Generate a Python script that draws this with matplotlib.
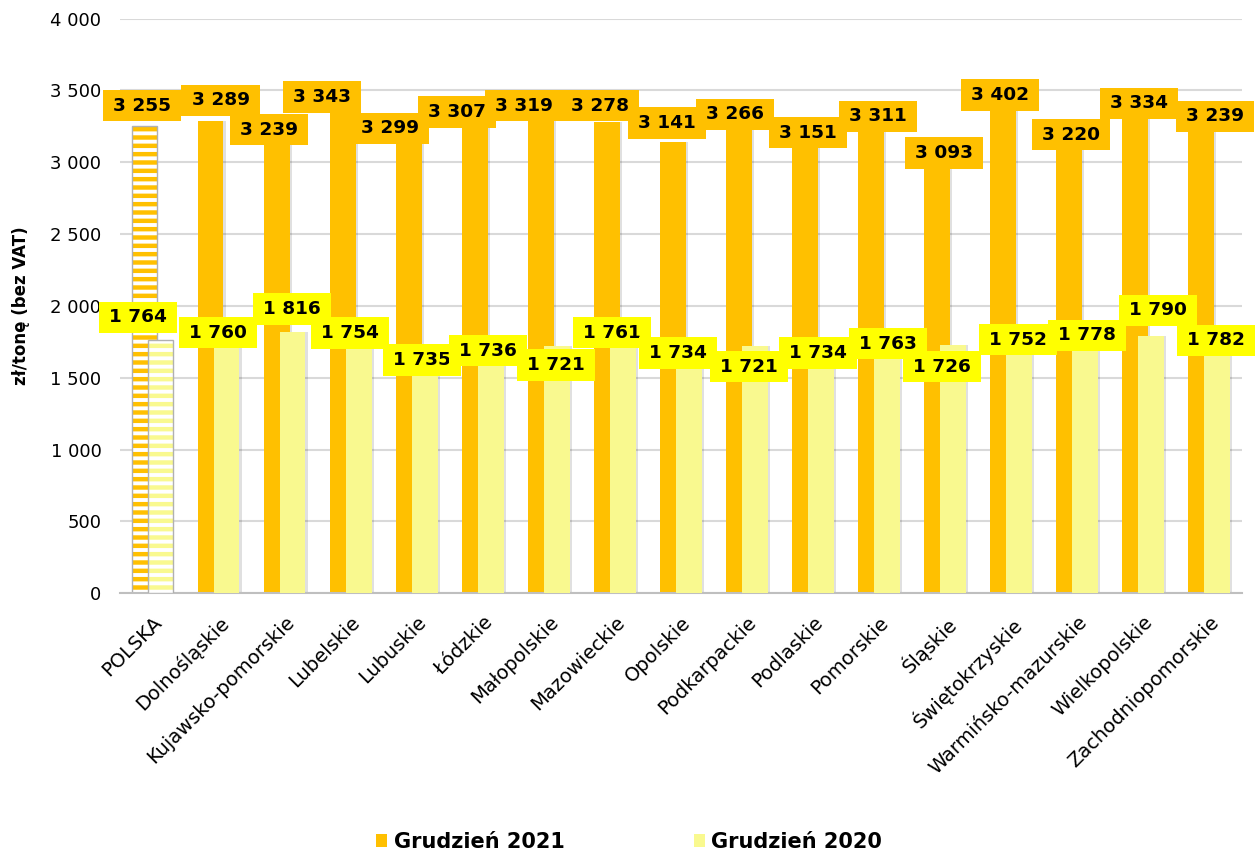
import matplotlib
matplotlib.use('Agg')
import numpy as np
import matplotlib.pyplot as plt
from matplotlib.patches import Patch
from matplotlib.path import Path
from matplotlib.ticker import FuncFormatter, MultipleLocator

plt.rcParams['font.family'] = ['DejaVu Sans']
plt.rcParams['hatch.linewidth'] = 3.2

# dane
regions = ['POLSKA', 'Dolnośląskie', 'Kujawsko-pomorskie', 'Lubelskie', 'Lubuskie',
           'Łódzkie', 'Małopolskie', 'Mazowieckie', 'Opolskie', 'Podkarpackie',
           'Podlaskie', 'Pomorskie', 'Śląskie', 'Świętokrzyskie',
           'Warmińsko-mazurskie', 'Wielkopolskie', 'Zachodniopomorskie']
dec_2021 = [3255, 3289, 3239, 3343, 3299, 3307, 3319, 3278, 3141, 3266,
            3151, 3311, 3093, 3402, 3220, 3334, 3239]
dec_2020 = [1764, 1760, 1816, 1754, 1735, 1736, 1721, 1761, 1734, 1721,
            1734, 1763, 1726, 1752, 1778, 1790, 1782]

# przesunięcia etykiet (ręcznie przesuwane w oryginale)
lab21_dx = [-0.16, 0.03, -0.24, -0.43, -0.41, -0.39, -0.38, -0.22, -0.21, -0.18,
            -0.07, -0.01, -0.02, -0.17, -0.09, -0.06, 0.09]
lab21_dy = [140, 141, -11, 111, -62, 43, 76, 117, 132, 67, 56, 9, -28, 66, -28, 77, 81]
lab20_dx = [-0.22, -0.01, 0.11, -0.01, 0.08, 0.08, 0.11, -0.05, -0.04, 0.03,
            0.08, 0.13, -0.05, 0.11, 0.15, 0.22, 0.10]
lab20_dy = [156, 55, 163, 58, -111, -47, -132, 54, -61, -144, -61, -26, -149, 13, 18, 180, -21]

c21 = '#FFC000'
c20 = '#F9F98F'
box20 = '#FFFF00'


def fmt(v):
    return f'{v:,.0f}'.replace(',', ' ')


def label_box(x0, y0, width, height, mutation_size):
    px, py = 0.55 * mutation_size, 0.36 * mutation_size
    x0, y0 = x0 - px, y0 - py
    x1, y1 = x0 + width + 2 * px, y0 + height + 2 * py
    return Path([(x0, y0), (x1, y0), (x1, y1), (x0, y1), (x0, y0)], closed=True)


fig = plt.figure(figsize=(12.58, 8.52), dpi=100)
ax = fig.add_axes([0.095, 0.3036, 0.8925, 0.6746])

x = np.arange(len(regions))
v21 = np.array(dec_2021)
v20 = np.array(dec_2020)
w = 0.39
off = 0.121

# cienie
ax.bar(x[1:] - off + 0.035, v21[1:], w, color='black', alpha=0.12, lw=0, zorder=1)
ax.bar(x[1:] + off + 0.035, v20[1:], w, color='black', alpha=0.12, lw=0, zorder=2.5)

b21 = ax.bar(x - off, v21, w, color=c21, lw=0, zorder=2)
b20 = ax.bar(x + off, v20, w, color=c20, lw=0, zorder=3)

# POLSKA - słupki w paski
for b, c, z in [(b21[0], c21, 2), (b20[0], c20, 3)]:
    b.set_facecolor('white')
    b.set_edgecolor(c)
    b.set_hatch('--')
    ax.bar(b.get_x() + w / 2, b.get_height(), w, fill=False,
           edgecolor='#B0B0B0', lw=1, zorder=z + 0.1)

for i in range(len(regions)):
    ax.text(x[i] + lab21_dx[i], v21[i] + lab21_dy[i], fmt(v21[i]),
            ha='center', va='center', fontsize=13.3, fontweight='bold', zorder=5,
            bbox=dict(boxstyle=label_box, fc=c21, ec='none'))
for i in range(len(regions)):
    ax.text(x[i] + lab20_dx[i], v20[i] + lab20_dy[i], fmt(v20[i]),
            ha='center', va='center', fontsize=13.3, fontweight='bold', zorder=5,
            bbox=dict(boxstyle=label_box, fc=box20, ec='none'))

ax.set_xlim(-0.5, len(regions) - 0.5)
ax.set_ylim(0, 4000)
ax.yaxis.set_major_locator(MultipleLocator(500))
ax.yaxis.set_major_formatter(FuncFormatter(lambda v, p: fmt(v)))
ax.set_xticks(x, regions, rotation=45, ha='right', rotation_mode='anchor', fontsize=14)
ax.tick_params(axis='x', length=0, pad=14)
ax.tick_params(axis='y', length=0, pad=13, labelsize=13)
ax.grid(axis='y', color='#D9D9D9', lw=1.5)
ax.set_axisbelow(True)
for s in ['top', 'right', 'left']:
    ax.spines[s].set_visible(False)
ax.spines['bottom'].set_color('#BFBFBF')
ax.spines['bottom'].set_linewidth(1.5)

ax.set_ylabel('zł/tonę (bez VAT)', fontsize=12, fontweight='bold')
ax.yaxis.set_label_coords(-0.08, 0.5)

handles = [Patch(facecolor=c21), Patch(facecolor=c20)]
fig.legend(handles, ['Grudzień 2021', 'Grudzień 2020'], loc='center',
           bbox_to_anchor=(0.5, 0.012), ncol=2, frameon=False,
           prop=dict(weight='bold', size=15), handlelength=0.55, handleheight=0.55,
           handletextpad=0.3, columnspacing=6.2)

fig.savefig('out.png', dpi=100)
